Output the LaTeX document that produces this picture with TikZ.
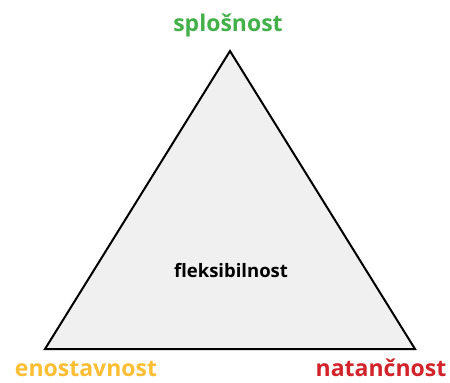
\documentclass[tikz,border=0pt]{standalone}
\usepackage{fontspec}
\setmainfont{Open Sans}
\usepackage{xcolor}
\usetikzlibrary{positioning}

\definecolor{splgreen}{RGB}{67,176,73}
\definecolor{enoorange}{RGB}{253,190,51}
\definecolor{natred}{RGB}{210,35,42}
\tikzset{
    corner/.style={font=\fontsize{23}{26}\selectfont\bfseries, inner sep=0pt, anchor=base},
    inside/.style={font=\fontsize{18.5}{21}\selectfont\bfseries, inner sep=0pt, anchor=base}
}

\begin{document}
\begin{tikzpicture}[x=1pt, y=-1pt]
    \useasboundingbox (0, 0) rectangle (450, 383);
    \coordinate (top) at (230, 51);
    \coordinate (left) at (45, 349);
    \coordinate (right) at (415, 349);
    \draw[line width=2pt, line join=miter, fill=black!6] (top) -- (left) -- (right) -- cycle;
    \node[corner, text=splgreen] (splosnost) at (228, 31) {splošnost};
    \node[corner, text=enoorange, text depth=0pt] (enostavnost) at (86, 376) {enostavnost};
    \node[corner, text=natred, text depth=0pt] (natancnost) at (381, 376) {natančnost};
    \node[inside] (fleksibilnost) at (231, 277) {fleksibilnost};
\end{tikzpicture}
\end{document}
